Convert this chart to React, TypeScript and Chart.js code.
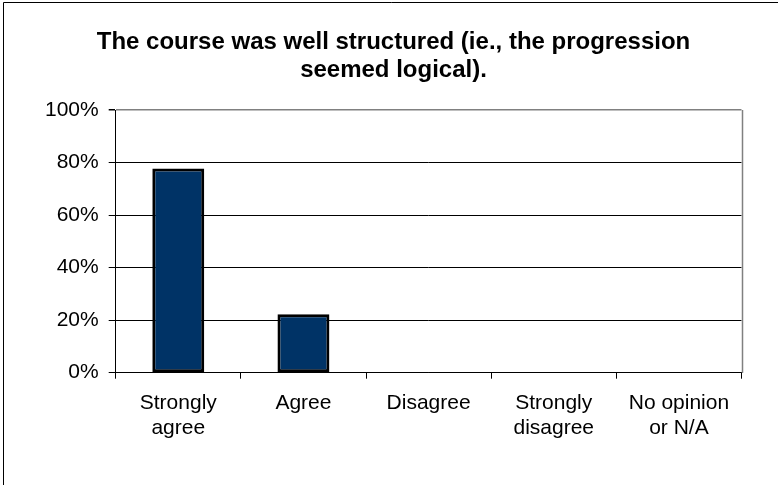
import React, { useEffect, useRef } from "react";
import { Chart, registerables } from "chart.js";

Chart.register(...registerables);

const titleLines = ["The course was well structured (ie., the progression", "seemed logical)."];
const categories = [["Strongly", "agree"], ["Agree"], ["Disagree"], ["Strongly", "disagree"], ["No opinion", "or N/A"]];
const values = [77.78, 22.22, 0, 0, 0];
const yTicks = [0, 20, 40, 60, 80, 100];

const FONT = "'Liberation Sans', Arial, sans-serif";

const framePlugin = {
  id: "frame",
  beforeDraw(chart: any) {
    const ctx = chart.ctx;
    ctx.save();
    ctx.fillStyle = "#ffffff";
    ctx.fillRect(0, 0, chart.width, chart.height);
    ctx.strokeStyle = "#000000";
    ctx.lineWidth = 1;
    ctx.beginPath();
    ctx.moveTo(3.5, chart.height + 5);
    ctx.lineTo(3.5, 2.5);
    ctx.lineTo(chart.width + 5, 2.5);
    ctx.stroke();
    ctx.restore();
  },
  afterDraw(chart: any) {
    const { ctx, chartArea } = chart;
    ctx.save();
    ctx.strokeStyle = "#808080";
    ctx.lineWidth = 1.5;
    ctx.beginPath();
    const x = Math.round(chartArea.right) + 0.5;
    ctx.moveTo(x, Math.round(chartArea.top));
    ctx.lineTo(x, Math.round(chartArea.bottom));
    ctx.stroke();
    ctx.restore();
  },
};

export default function App() {
  const ref = useRef<HTMLCanvasElement | null>(null);
  useEffect(() => {
    document.body.style.margin = "0";
    const canvas = ref.current!;
    const chart = new Chart(canvas, {
      type: "bar",
      data: {
        labels: categories as any,
        datasets: [
          {
            data: values,
            backgroundColor: "#003366",
            borderColor: "#000000",
            borderWidth: 3,
            borderSkipped: false,
            barPercentage: 0.415,
            categoryPercentage: 1,
            yAxisID: "y",
          },
        ],
      },
      options: {
        animation: false,
        responsive: false,
        devicePixelRatio: 1,
        layout: { padding: { left: 9, right: 0, top: 0, bottom: 0 } },
        plugins: {
          legend: { display: false },
          tooltip: { enabled: false },
          title: {
            display: true,
            text: titleLines,
            color: "#000000",
            font: { family: FONT, size: 24, weight: "bold", lineHeight: 1.15 },
            padding: { top: 29, bottom: 26 },
          },
        },
        scales: {
          x: {
            offset: true,
            afterFit: (s: any) => {
              s.height = 112.3;
            },
            grid: {
              offset: true,
              drawOnChartArea: false,
              drawTicks: true,
              tickLength: 6,
              tickColor: "#000000",
            },
            border: { display: true, color: "#000000", width: 1 },
            ticks: {
              color: "#000000",
              padding: 12,
              maxRotation: 0,
              autoSkip: false,
              font: { family: FONT, size: 21, lineHeight: 1.2 },
            },
          },
          y: {
            min: 0,
            max: 100,
            afterFit: (s: any) => {
              s.width = 106.7;
            },
            afterBuildTicks: (s: any) => {
              s.ticks = yTicks.map((v) => ({ value: v }));
            },
            grid: {
              color: (c: any) => (c.tick && c.tick.value === 100 ? "#808080" : "#000000"),
              lineWidth: (c: any) => (c.tick && c.tick.value === 100 ? 1.5 : 1),
              tickColor: "#000000",
              tickLength: 7,
              drawTicks: true,
            },
            border: { display: true, color: "#000000", width: 1 },
            ticks: {
              color: "#000000",
              padding: 10,
              font: { family: FONT, size: 21 },
              callback: (v: any) => v + "%",
            },
          },
          y2: {
            position: "right",
            min: 0,
            max: 100,
            afterFit: (s: any) => {
              s.width = 36.5;
            },
            grid: { display: false, drawTicks: false },
            border: { display: false },
            ticks: { display: false },
          },
        },
      },
      plugins: [framePlugin],
    });
    return () => chart.destroy();
  }, []);
  return (
    <div style={{ position: "fixed", left: 0, top: 0, width: 778, height: 485 }}>
      <canvas ref={ref} width={778} height={485} style={{ width: 778, height: 485, display: "block" }} />
    </div>
  );
}
